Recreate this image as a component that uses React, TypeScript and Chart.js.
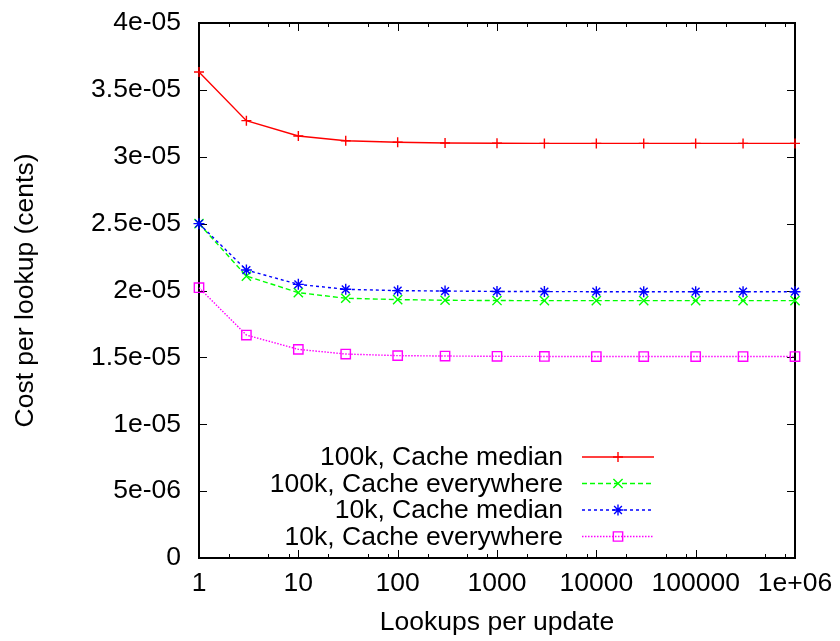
import React, { useEffect, useRef } from 'react';
import { Chart, registerables } from 'chart.js';
import { drawPoint } from 'chart.js/helpers';

Chart.register(...registerables);

// ---------- data ----------
const xValues = [1, 3, 10, 30, 100, 300, 1000, 3000, 10000, 30000, 100000, 300000, 1000000];

const seriesLabels = [
  '100k, Cache median',
  '100k, Cache everywhere',
  '10k, Cache median',
  '10k, Cache everywhere',
];

const median100k = [3.634e-5, 3.27e-5, 3.155e-5, 3.12e-5, 3.108e-5, 3.103e-5, 3.101e-5, 3.1e-5, 3.1e-5, 3.1e-5, 3.1e-5, 3.1e-5, 3.1e-5];
const everywhere100k = [2.5e-5, 2.108e-5, 1.984e-5, 1.942e-5, 1.932e-5, 1.927e-5, 1.925e-5, 1.924e-5, 1.924e-5, 1.924e-5, 1.924e-5, 1.924e-5, 1.924e-5];
const median10k = [2.5e-5, 2.153e-5, 2.046e-5, 2.009e-5, 1.999e-5, 1.996e-5, 1.993e-5, 1.992e-5, 1.991e-5, 1.991e-5, 1.991e-5, 1.991e-5, 1.991e-5];
const everywhere10k = [2.021e-5, 1.667e-5, 1.56e-5, 1.525e-5, 1.513e-5, 1.51e-5, 1.508e-5, 1.507e-5, 1.506e-5, 1.506e-5, 1.506e-5, 1.506e-5, 1.506e-5];

const xTickValues = [1, 10, 100, 1000, 10000, 100000, 1000000];
const xTickLabels = ['1', '10', '100', '1000', '10000', '100000', '1e+06'];
const xMinorTickValues = [
  2, 5, 8, 20, 50, 80, 200, 500, 800, 2000, 5000, 8000,
  20000, 50000, 80000, 200000, 500000, 800000,
];
const yTickValues = [0, 5e-6, 1e-5, 1.5e-5, 2e-5, 2.5e-5, 3e-5, 3.5e-5, 4e-5];
const yTickLabels = ['0', '5e-06', '1e-05', '1.5e-05', '2e-05', '2.5e-05', '3e-05', '3.5e-05', '4e-05'];

const xTitle = 'Lookups per update';
const yTitle = 'Cost per lookup (cents)';

// ---------- styles ----------
const FONT = '"Liberation Sans", Arial, Helvetica, sans-serif';
const FONT_SIZE = 26.5;

const seriesStyles = [
  { color: '#ff0000', dash: [] as number[], point: 'cross', radius: 5 },
  { color: '#00ff00', dash: [5, 3], point: 'crossRot', radius: 6.5 },
  { color: '#0000ff', dash: [3, 3], point: 'star', radius: 5.5 },
  { color: '#ff00ff', dash: [1.5, 1.5], point: 'rect', radius: 6.6 },
];
const seriesData = [median100k, everywhere100k, median10k, everywhere10k];

const framePlugin = {
  id: 'gnuplotFrame',
  beforeDatasetsDraw(chart: any) {
    const { ctx, chartArea } = chart;
    const { left, right, top, bottom } = chartArea;
    const xs = chart.scales.x;
    const ys = chart.scales.y;
    ctx.save();
    ctx.strokeStyle = '#000';
    ctx.lineWidth = 1;
    const major = 8;
    const minor = 4;
    ctx.beginPath();
    xTickValues.forEach((v) => {
      const px = Math.round(xs.getPixelForValue(v)) + 0.5;
      ctx.moveTo(px, bottom);
      ctx.lineTo(px, bottom - major);
      ctx.moveTo(px, top);
      ctx.lineTo(px, top + major);
    });
    xMinorTickValues.forEach((v) => {
      const px = Math.round(xs.getPixelForValue(v)) + 0.5;
      ctx.moveTo(px, bottom);
      ctx.lineTo(px, bottom - minor);
      ctx.moveTo(px, top);
      ctx.lineTo(px, top + minor);
    });
    yTickValues.forEach((v) => {
      const py = Math.round(ys.getPixelForValue(v)) + 0.5;
      ctx.moveTo(left, py);
      ctx.lineTo(left + major, py);
      ctx.moveTo(right, py);
      ctx.lineTo(right - major, py);
    });
    ctx.stroke();
    ctx.lineWidth = 2;
    ctx.strokeRect(left, top, right - left, bottom - top);
    ctx.restore();
  },
};

const legendPlugin = {
  id: 'gnuplotLegend',
  afterDatasetsDraw(chart: any) {
    const { ctx } = chart;
    const textRight = 563;
    const lineStart = 582;
    const lineEnd = 654;
    const markX = 618;
    const rows = [457, 483.5, 510, 536.5];
    ctx.save();
    ctx.font = `${FONT_SIZE}px ${FONT}`;
    ctx.textAlign = 'right';
    ctx.textBaseline = 'middle';
    chart.data.datasets.forEach((ds: any, i: number) => {
      const y = rows[i];
      ctx.fillStyle = '#000';
      ctx.fillText(ds.label, textRight, y + 1);
      ctx.strokeStyle = ds.borderColor;
      ctx.lineWidth = ds.borderWidth;
      ctx.setLineDash(ds.borderDash || []);
      ctx.beginPath();
      ctx.moveTo(lineStart, y);
      ctx.lineTo(lineEnd, y);
      ctx.stroke();
      ctx.setLineDash([]);
      ctx.lineWidth = ds.pointBorderWidth;
      ctx.fillStyle = 'rgba(0,0,0,0)';
      ctx.strokeStyle = ds.borderColor;
      drawPoint(ctx, { pointStyle: ds.pointStyle, radius: ds.pointRadius, rotation: 0, borderWidth: ds.pointBorderWidth }, markX, y);
    });
    ctx.restore();
  },
};

export default function App() {
  const canvasRef = useRef<HTMLCanvasElement | null>(null);

  useEffect(() => {
    if (!canvasRef.current) return;
    const datasets = seriesLabels.map((label, i) => {
      const s = seriesStyles[i];
      return {
        label,
        data: xValues.map((x, j) => ({ x, y: seriesData[i][j] })),
        borderColor: s.color,
        backgroundColor: 'rgba(0,0,0,0)',
        borderWidth: 1.4,
        borderDash: s.dash,
        pointStyle: s.point,
        pointRadius: s.radius,
        pointBorderWidth: 1.4,
        pointBorderColor: s.color,
        pointBackgroundColor: 'rgba(0,0,0,0)',
        fill: false,
        tension: 0,
        clip: false as any,
        order: 3 - i,
      };
    });

    const chart = new Chart(canvasRef.current, {
      type: 'line',
      data: { datasets },
      options: {
        animation: false,
        responsive: false,
        maintainAspectRatio: false,
        layout: { padding: { top: 23, right: 45, left: 0, bottom: 0 } },
        plugins: {
          legend: { display: false },
          tooltip: { enabled: false },
        },
        scales: {
          x: {
            type: 'logarithmic',
            min: 1,
            max: 1000000,
            grid: { display: false, drawTicks: false },
            border: { display: false },
            afterBuildTicks: (scale: any) => {
              scale.ticks = xTickValues.map((v) => ({ value: v }));
            },
            afterFit: (scale: any) => {
              scale.height = 83;
              scale.paddingLeft = 0;
              scale.paddingRight = 0;
            },
            ticks: {
              autoSkip: false,
              maxRotation: 0,
              minRotation: 0,
              padding: 10,
              color: '#000',
              font: { family: FONT, size: FONT_SIZE },
              callback: (value: any) => {
                const idx = xTickValues.indexOf(Number(value));
                return idx >= 0 ? xTickLabels[idx] : null;
              },
            },
            title: {
              display: true,
              text: xTitle,
              color: '#000',
              font: { family: FONT, size: FONT_SIZE },
              padding: { top: 0, bottom: 2 },
            },
          },
          y: {
            type: 'linear',
            min: 0,
            max: 4e-5,
            grid: { display: false, drawTicks: false },
            border: { display: false },
            afterBuildTicks: (scale: any) => {
              scale.ticks = yTickValues.map((v) => ({ value: v }));
            },
            afterFit: (scale: any) => {
              scale.width = 199;
              scale.paddingTop = 0;
              scale.paddingBottom = 0;
            },
            ticks: {
              autoSkip: false,
              padding: 18,
              color: '#000',
              font: { family: FONT, size: FONT_SIZE },
              callback: (value: any, index: number) => yTickLabels[index],
            },
            title: {
              display: true,
              text: yTitle,
              color: '#000',
              font: { family: FONT, size: FONT_SIZE },
              padding: { top: 10, bottom: 0 },
            },
          },
        },
      },
      plugins: [framePlugin, legendPlugin],
    });

    return () => chart.destroy();
  }, []);

  return (
    <div style={{ position: 'absolute', left: 0, top: 0, width: 840, height: 641, background: '#fff' }}>
      <canvas ref={canvasRef} width={840} height={641} style={{ display: 'block' }} />
    </div>
  );
}
